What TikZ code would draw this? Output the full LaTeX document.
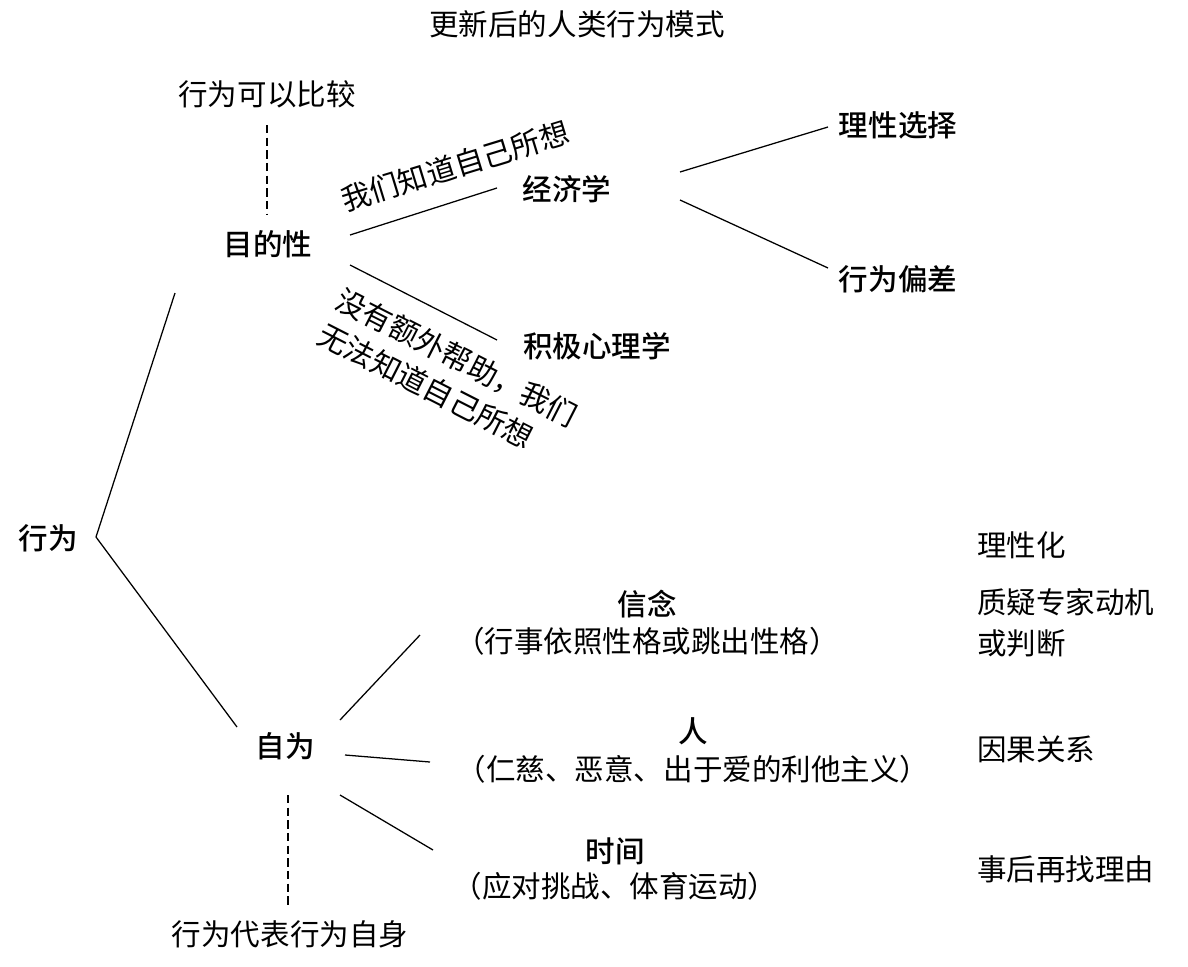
\documentclass[tikz,border=0pt]{standalone}
\usepackage{fontspec}
\setmainfont{Noto Sans CJK SC}
\newfontfamily\cjkb{Noto Sans CJK SC Medium}
\begin{document}
\begin{tikzpicture}[x=0.025cm,y=-0.025cm,
  t/.style={font=\fontsize{21}{26}\selectfont,inner sep=0pt},
  tb/.style={font=\cjkb\fontsize{21}{26}\selectfont,inner sep=0pt},
  ln/.style={line width=0.9pt},
  dl/.style={line width=0.9pt,dash pattern=on 6pt off 3pt}]
\useasboundingbox (0,0) rectangle (1188,966);
\node[t] (title) at (577,24) {更新后的人类行为模式};
\node[t] (cmp) at (267,94) {行为可以比较};
\node[tb] (mdx) at (268,244) {目的性};
\node[tb] (jjx) at (567,189) {经济学};
\node[tb] (lxxz) at (898,125) {理性选择};
\node[tb] (xwpc) at (898,279) {行为偏差};
\node[tb] (jjxl) at (597,346) {积极心理学};
\node[tb] (xw) at (48,538) {行为};
\node[tb] (zw) at (285,746) {自为};
\node[t] (self) at (290,934) {行为代表行为自身};
\node[tb] (xn) at (647,604) {信念};
\node[t] (xn2) at (647,641) {（行事依照性格或跳出性格）};
\node[tb] (ren) at (693,731) {人};
\node[t] (ren2) at (693,769) {（仁慈、恶意、出于爱的利他主义）};
\node[tb] (sj) at (615,851) {时间};
\node[t] (sj2) at (615,886) {（应对挑战、体育运动）};
\node[t,anchor=west] (r1) at (977,545) {理性化};
\node[t,anchor=west,align=left] (r2) at (977,623) {质疑专家动机\\[3pt]或判断};
\node[t,anchor=west] (r3) at (977,749) {因果关系};
\node[t,anchor=west] (r4) at (977,869) {事后再找理由};
\node[t,rotate=17] (s1) at (455,166) {我们知道自己所想};
\node[t,rotate=-27,align=left] (s2) at (448,375) {没有额外帮助，我们\\[2pt]无法知道自己所想};
\coordinate (a1) at (267,125); \coordinate (a2) at (267,215);
\draw[dl] (a1) -- (a2);
\coordinate (b1) at (288,795); \coordinate (b2) at (288,905);
\draw[dl] (b1) -- (b2);
\draw[ln] (350,235) -- (497,188);
\draw[ln] (350,265) -- (497,340);
\draw[ln] (680,172) -- (828,127);
\draw[ln] (680,200) -- (828,268);
\draw[ln] (175,293) -- (96,537) -- (237,727);
\draw[ln] (340,720) -- (420,635);
\draw[ln] (345,755) -- (430,762);
\draw[ln] (340,795) -- (433,850);
\end{tikzpicture}
\end{document}
